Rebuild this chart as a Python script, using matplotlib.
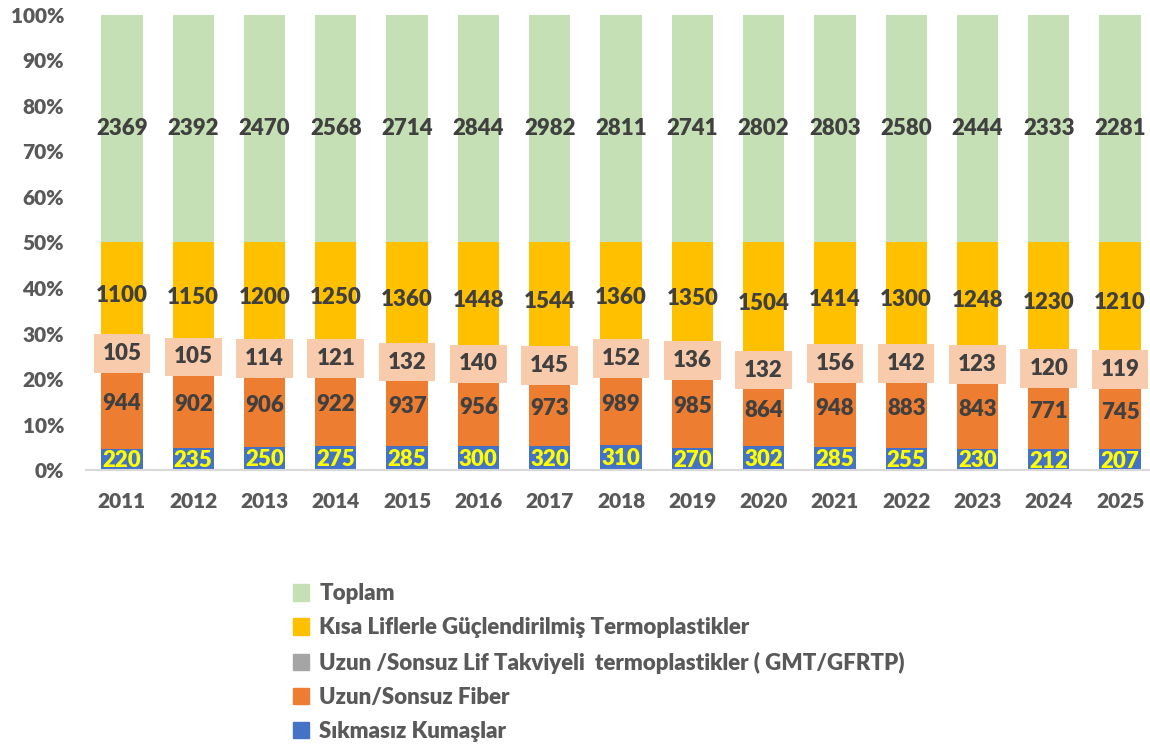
import numpy as np
import matplotlib
matplotlib.use("Agg")
import matplotlib.pyplot as plt
from matplotlib.patches import Patch

plt.rcParams['font.family'] = ['Lato', 'DejaVu Sans']

years = ["2011", "2012", "2013", "2014", "2015", "2016", "2017", "2018",
         "2019", "2020", "2021", "2022", "2023", "2024", "2025"]
sikmasiz = [220, 235, 250, 275, 285, 300, 320, 310, 270, 302, 285, 255, 230, 212, 207]
uzun_fiber = [944, 902, 906, 922, 937, 956, 973, 989, 985, 864, 948, 883, 843, 771, 745]
uzun_lif = [105, 105, 114, 121, 132, 140, 145, 152, 136, 132, 156, 142, 123, 120, 119]
kisa = [1100, 1150, 1200, 1250, 1360, 1448, 1544, 1360, 1350, 1504, 1414, 1300, 1248, 1230, 1210]
toplam = [2369, 2392, 2470, 2568, 2714, 2844, 2982, 2811, 2741, 2802, 2803, 2580, 2444, 2333, 2281]

names = ["Sıkmasız Kumaşlar", "Uzun/Sonsuz Fiber",
         "Uzun /Sonsuz Lif Takviyeli  termoplastikler ( GMT/GFRTP)",
         "Kısa Liflerle Güçlendirilmiş Termoplastikler", "Toplam"]
colors = ["#4472C4", "#ED7D31", "#A5A5A5", "#FFC000", "#C5E0B4"]
series = [sikmasiz, uzun_fiber, uzun_lif, kisa, toplam]

data = np.array(series, dtype=float)
pct = data / data.sum(axis=0) * 100

fig = plt.figure(figsize=(11.5, 7.45), dpi=100)
ax = fig.add_axes([0.075, 0.369, 0.93, 0.611])

x = np.arange(len(years))
bottom = np.zeros(len(years))
for k in range(5):
    ax.bar(x, pct[k], 0.58, bottom=bottom, color=colors[k], zorder=2)
    for i in range(len(years)):
        yc = bottom[i] + pct[k][i] / 2
        if k == 0:
            ax.text(x[i], yc - 0.3, str(series[k][i]), ha='center', va='center',
                    fontsize=16, fontweight='heavy', color='#FFFF00', zorder=4)
        elif k == 2:
            # label box sits over the thin gray segment
            ax.text(x[i], yc, str(series[k][i]), ha='center', va='center',
                    fontsize=16, fontweight='heavy', color='#404040', zorder=4,
                    bbox=dict(boxstyle='square,pad=0.4', fc='#F8CBAD', ec='none'))
        else:
            ax.text(x[i], yc, str(series[k][i]), ha='center', va='center',
                    fontsize=16, fontweight='heavy', color='#404040', zorder=4)
    bottom += pct[k]

ax.set_xlim(-0.5, len(years) - 0.5)
ax.set_ylim(0, 100)
ax.set_yticks(np.arange(0, 101, 10))
ax.set_yticklabels([f"{v}%" for v in range(0, 101, 10)])
ax.set_xticks(x)
ax.set_xticklabels(years)
for lab in ax.get_xticklabels() + ax.get_yticklabels():
    lab.set_fontweight('heavy')
    lab.set_fontsize(15)
    lab.set_color('#595959')
ax.tick_params(length=0)
ax.tick_params(axis='x', pad=16)
ax.tick_params(axis='y', pad=16)
for s in ['top', 'right', 'left']:
    ax.spines[s].set_visible(False)
ax.spines['bottom'].set_color('#D9D9D9')
ax.spines['bottom'].set_linewidth(1.5)

handles = [Patch(color=colors[k], label=names[k]) for k in range(4, -1, -1)]
leg = fig.legend(handles=handles, loc='upper left', bbox_to_anchor=(0.237, 0.244),
                 frameon=False, handlelength=0.75, handleheight=0.75, handletextpad=0.45,
                 labelspacing=0.59, prop={'size': 16, 'weight': 'heavy'})
for t in leg.get_texts():
    t.set_color('#595959')

fig.savefig("out.png", dpi=100)
